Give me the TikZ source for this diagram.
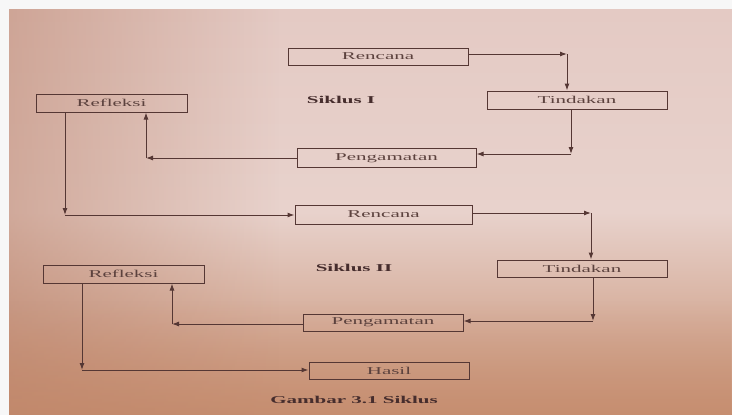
\documentclass[tikz,border=0pt]{standalone}
\usepackage{fontspec}
\setmainfont{Liberation Serif}
\newfontfamily\boxfont[FakeStretch=2.0]{Liberation Serif}
\usetikzlibrary{arrows.meta,fadings}
\definecolor{ink}{RGB}{85,55,52}
\definecolor{txt}{RGB}{92,66,62}
\definecolor{lblc}{RGB}{70,45,45}
\definecolor{bgtop}{RGB}{228,202,196}
\definecolor{bgmid}{RGB}{232,210,204}
\definecolor{bgbot}{RGB}{198,142,112}
\definecolor{bgleft}{RGB}{180,120,95}
\tikzset{
  box/.style={draw=ink, line width=1pt, rectangle, inner sep=0pt, text=txt,
    font=\boxfont\fontsize{10.5}{12}\selectfont},
  lbl/.style={text=lblc, font=\boxfont\bfseries\fontsize{10.5}{12}\selectfont},
  conn/.style={draw=ink, line width=1pt, -{Latex[length=7pt,width=5pt]}}
}
\begin{document}
\begin{tikzpicture}[x=1pt,y=-1pt]
\useasboundingbox (0,0) rectangle (732,415);
\fill[white!94!gray] (0,0) rectangle (732,415);
\shade[top color=bgtop, bottom color=bgbot, middle color=bgmid] (9,9) rectangle (732,415);
\fill[bgleft, path fading=east, opacity=0.45] (9,9) rectangle (280,415);
\fill[bgbot, path fading=north, opacity=0.5] (9,300) rectangle (732,415);

% Siklus I
\node[box, minimum width=180, minimum height=17] (r1) at (378,56.5) {Rencana};
\node[box, minimum width=180, minimum height=18] (t1) at (577,100) {Tindakan};
\node[box, minimum width=179, minimum height=19] (p1) at (386.5,158) {Pengamatan};
\node[box, minimum width=151, minimum height=18] (f1) at (111.5,103) {Refleksi};
\node[lbl] (s1) at (341,100) {Siklus I};

% Siklus II
\node[box, minimum width=177, minimum height=19] (r2) at (383.5,214.5) {Rencana};
\node[box, minimum width=170, minimum height=17] (t2) at (582,268.5) {Tindakan};
\node[box, minimum width=160, minimum height=17] (p2) at (383,322.5) {Pengamatan};
\node[box, minimum width=161, minimum height=18] (f2) at (123.5,274) {Refleksi};
\node[box, minimum width=160, minimum height=17] (h) at (389,370.5) {Hasil};
\node[lbl] (s2) at (354,268) {Siklus II};
\node[lbl] (cap) at (354,400) {Gambar 3.1 Siklus};

% corners
\coordinate (c1) at (567,54);
\coordinate (c2) at (571,154);
\coordinate (c3) at (146,158);
\coordinate (c4) at (65,215);
\coordinate (c5) at (591,213);
\coordinate (c6) at (593,321);
\coordinate (c7) at (172,324);
\coordinate (c8) at (82,370);

\draw[conn] (r1.east |- c1) -- (c1);
\draw[conn] (c1) -- (c1 |- t1.north);
\draw[conn] (t1.south -| c2) -- (c2);
\draw[conn] (c2) -- (c2 -| p1.east);
\draw[conn] (p1.west |- c3) -- (c3);
\draw[conn] (c3) -- (c3 |- f1.south);
\draw[conn] (f1.south -| c4) -- (c4);
\draw[conn] (c4) -- (c4 -| r2.west);

\draw[conn] (r2.east |- c5) -- (c5);
\draw[conn] (c5) -- (c5 |- t2.north);
\draw[conn] (t2.south -| c6) -- (c6);
\draw[conn] (c6) -- (c6 -| p2.east);
\draw[conn] (p2.west |- c7) -- (c7);
\draw[conn] (c7) -- (c7 |- f2.south);
\draw[conn] (f2.south -| c8) -- (c8);
\draw[conn] (c8) -- (c8 -| h.west);
\end{tikzpicture}
\end{document}
